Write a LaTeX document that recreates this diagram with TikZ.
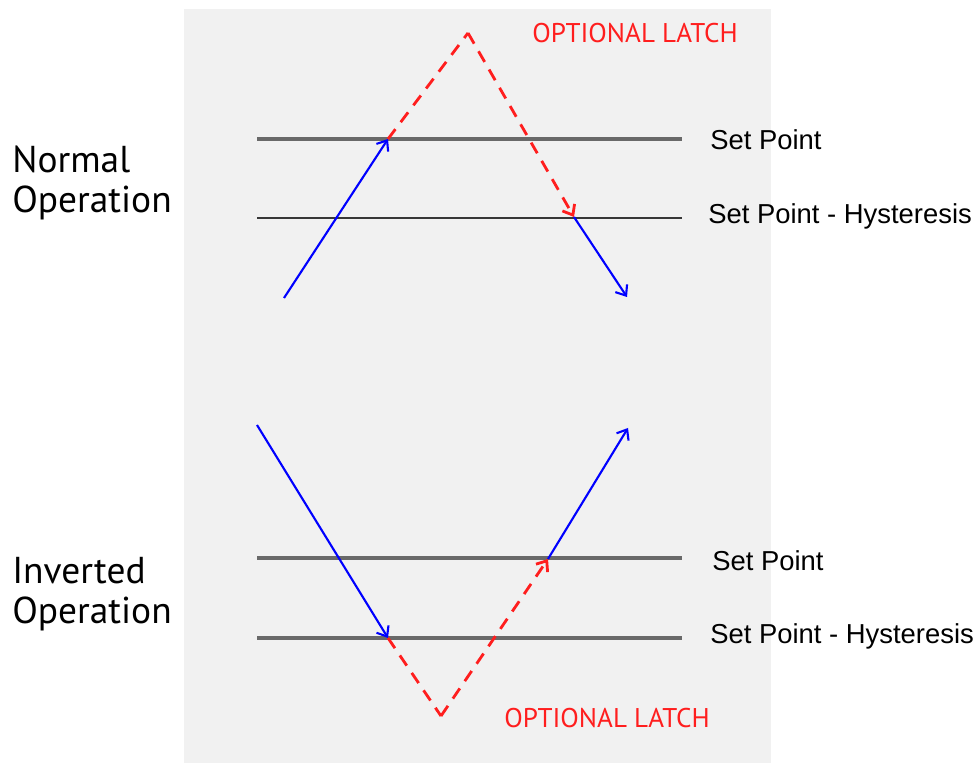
\documentclass[tikz,border=0pt]{standalone}
\usepackage{fontspec}
\setmainfont{Liberation Sans}
\newfontfamily\sidefont{PT Sans}
\usepackage{tikz}
\definecolor{panelbg}{RGB}{241, 241, 241}
\definecolor{spgray}{RGB}{105, 105, 105}
\definecolor{hystgray}{RGB}{55, 55, 55}
\definecolor{latchred}{RGB}{255, 30, 30}
\usetikzlibrary{arrows.meta, positioning, calc}

\begin{document}
\begin{tikzpicture}[x=0.02cm, y=-0.02cm,
    spline/.style={draw=spgray, line width=2pt},
    hystline/.style={draw=hystgray, line width=1.5pt},
    travel/.style={draw=blue, line width=1.2pt, -{Straight Barb[length=5pt, width=8pt]}},
    latch/.style={draw=latchred, line width=1.6pt, dash pattern=on 7pt off 5pt},
    latcharrow/.style={latch, -{Straight Barb[length=5pt, width=8pt]}},
    linelabel/.style={anchor=west, inner sep=0pt, font=\fontsize{15.6}{18}\selectfont},
    modelabel/.style={anchor=north west, inner sep=0pt, align=left, font=\sidefont\fontsize{21.3}{22.7}\selectfont},
    latchlabel/.style={anchor=west, inner sep=0pt, text=latchred, font=\sidefont\fontsize{15.4}{16}\selectfont}
]
    \useasboundingbox (0,0) rectangle (978,763);
    \fill[panelbg] (184,9) rectangle (771,763);

    % Normal operation
    \coordinate (nspa) at (257,139);
    \coordinate (nspb) at (682,139);
    \coordinate (nhya) at (257,218);
    \coordinate (nhyb) at (682,218);
    \draw[spline] (nspa) -- (nspb);
    \draw[hystline] (nhya) -- (nhyb);
    \node[linelabel] (nsp) at (710,140) {Set Point};
    \node[linelabel] (nhy) at (708,216) {Set Point - Hysteresis};

    \coordinate (nstart) at (284,298);
    \coordinate (nup) at (388,139);
    \coordinate (npeak) at (468,33);
    \coordinate (ndown) at (574,217);
    \coordinate (nend) at (627,297);
    \draw[travel] (nstart) -- (nup);
    \draw[latch] (nup) -- (npeak);
    \draw[latcharrow] (npeak) -- (ndown);
    \draw[travel] (ndown) -- (nend);
    \node[latchlabel] (nlatch) at (532,33) {OPTIONAL LATCH};
    \node[modelabel] (nmode) at (12,146) {Normal\\Operation};

    % Inverted operation
    \coordinate (ispa) at (257,558);
    \coordinate (ispb) at (682,558);
    \coordinate (ihya) at (257,638);
    \coordinate (ihyb) at (682,638);
    \draw[spline] (ispa) -- (ispb);
    \draw[spline] (ihya) -- (ihyb);
    \node[linelabel] (isp) at (712,561) {Set Point};
    \node[linelabel] (ihy) at (710,636) {Set Point - Hysteresis};

    \coordinate (istart) at (257,425);
    \coordinate (idown) at (388,638);
    \coordinate (ivalley) at (441,716);
    \coordinate (iup) at (548,559);
    \coordinate (iend) at (628,428);
    \draw[travel] (istart) -- (idown);
    \draw[latch] (idown) -- (ivalley);
    \draw[latcharrow] (ivalley) -- (iup);
    \draw[travel] (iup) -- (iend);
    \node[latchlabel] (ilatch) at (504,718) {OPTIONAL LATCH};
    \node[modelabel] (imode) at (12,557) {Inverted\\Operation};
\end{tikzpicture}
\end{document}
